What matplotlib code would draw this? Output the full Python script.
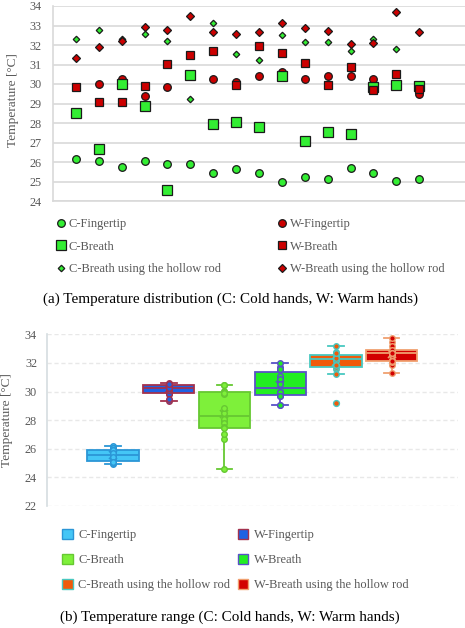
import numpy as np
import matplotlib
matplotlib.use("Agg")
import matplotlib.pyplot as plt
from matplotlib import cbook
from matplotlib.patches import Patch

plt.rcParams['font.family'] = ['Liberation Serif', 'DejaVu Serif']

# ---------------- data ----------------
series_names = ["C-Fingertip", "W-Fingertip", "C-Breath", "W-Breath",
                "C-Breath using the hollow rod", "W-Breath using the hollow rod"]
subjects = np.arange(1, 17)
c_finger = [26.17, 26.03, 25.74, 26.03, 25.90, 25.90, 25.42, 25.66, 25.42, 24.96, 25.23, 25.11, 25.68, 25.42, 25.01, 25.11]
w_finger = [29.83, 30.00, 30.24, 29.37, 29.83, 30.45, 30.25, 30.10, 30.39, 30.62, 30.25, 30.43, 30.43, 30.25, 30.53, 29.47]
c_breath = [28.53, 26.68, 30.02, 28.85, 24.58, 30.48, 27.95, 28.05, 27.81, 30.43, 27.06, 27.54, 27.44, 29.83, 29.97, 29.90]
w_breath = [29.83, 29.06, 29.09, 29.88, 31.01, 31.50, 31.68, 29.97, 31.97, 31.59, 31.08, 29.95, 30.89, 29.69, 30.53, 29.72]
c_rod = [32.32, 32.75, 32.32, 32.58, 32.22, 29.21, 33.15, 31.56, 31.25, 32.50, 32.17, 32.17, 31.71, 32.32, 31.82, 32.68]
w_rod = [31.33, 31.88, 32.20, 32.90, 32.79, 33.49, 32.68, 32.55, 32.67, 33.15, 32.87, 32.72, 32.05, 32.12, 33.71, 32.68]
all_series = [c_finger, w_finger, c_breath, w_breath, c_rod, w_rod]

top_yticks = list(range(24, 35))
bot_yticks = list(range(22, 35, 2))

# ---------------- styles ----------------
W, H = 465, 628
fig = plt.figure(figsize=(W / 100, H / 100), dpi=100)
GRAY_TXT = '#595959'
GRID = '#D9D9D9'
GREEN = '#33EE33'
RED = '#CC0000'
EDGE = '#1a1a1a'

def ax_rect(l, t, r, b):
    return [l / W, 1 - b / H, (r - l) / W, (b - t) / H]

# ---------------- top scatter ----------------
ax1 = fig.add_axes(ax_rect(53, 6, 465, 201))
mstyles = [('o', GREEN, 5.5), ('o', RED, 5.5), ('s', GREEN, 6.6), ('s', RED, 5.7),
           ('D', GREEN, 3.3), ('D', RED, 4.3)]
handles1 = []
for (m, c, ms), vals, name in zip(mstyles, all_series, series_names):
    h, = ax1.plot(subjects, vals, linestyle='none', marker=m, markersize=ms,
                  markerfacecolor=c, markeredgecolor=EDGE, markeredgewidth=0.9,
                  label=name, zorder=3)
    handles1.append(h)
ax1.set_xlim(0, 18)
ax1.set_ylim(24, 34)
ax1.set_yticks(top_yticks)
ax1.set_xticks([])
ax1.yaxis.grid(True, color=GRID, linewidth=1.2)
ax1.set_axisbelow(True)
for s in ['top', 'right']:
    ax1.spines[s].set_visible(False)
for s in ['left', 'bottom']:
    ax1.spines[s].set_color(GRID)
    ax1.spines[s].set_linewidth(1.2)
ax1.tick_params(axis='y', length=0, pad=8, labelsize=8.8, labelcolor=GRAY_TXT)
fig.text(13 / W, 1 - 100 / H, 'Temperature [°C]', rotation=90, ha='center', va='center',
         fontsize=9.6, color=GRAY_TXT)

order = [0, 2, 4, 1, 3, 5]
leg1 = fig.legend([handles1[i] for i in order], [series_names[i] for i in order], ncol=2,
                  loc='upper left', bbox_to_anchor=(57 / W, 1 - 218 / H), frameon=False,
                  fontsize=9.0, handlelength=0.7, handletextpad=0.25, columnspacing=4.55,
                  labelspacing=0.85, borderpad=0, borderaxespad=0)
for t in leg1.get_texts():
    t.set_color(GRAY_TXT)

fig.text(230 / W, 1 - 299 / H, '(a) Temperature distribution (C: Cold hands, W: Warm hands)',
         ha='center', va='center', fontsize=10.9, color='black')

# ---------------- bottom box plot ----------------
ax2 = fig.add_axes(ax_rect(46.7, 334.3, 458, 506))
faces = ['#44C6F6', '#1E62E4', '#7EF03A', '#22EE22', '#F05A0A', '#D20000']
edges = ['#2B96D6', '#A3324E', '#66C832', '#5A50C8', '#48C8C0', '#F0A070']
positions = np.arange(6)

stats = []
for vals in all_series:
    v = np.asarray(vals)
    st = cbook.boxplot_stats(v)[0]
    q1, med, q3 = np.percentile(v, [25, 50, 75], method='weibull')
    iqr = q3 - q1
    lo_f, hi_f = q1 - 1.5 * iqr, q3 + 1.5 * iqr
    inside = v[(v >= lo_f) & (v <= hi_f)]
    st.update(q1=q1, med=med, q3=q3, iqr=iqr, whislo=inside.min(), whishi=inside.max(),
              fliers=v[(v < lo_f) | (v > hi_f)], mean=v.mean())
    stats.append(st)

bp = ax2.bxp(stats, positions=positions, widths=0.92, patch_artist=True, showmeans=True,
             capwidths=0.28, zorder=2)
for i in range(6):
    fc, ec = faces[i], edges[i]
    bp['boxes'][i].set(facecolor=fc, edgecolor=ec, linewidth=1.3)
    bp['medians'][i].set(color=ec, linewidth=1.3)
    for j in (2 * i, 2 * i + 1):
        bp['whiskers'][j].set(color=ec, linewidth=1.3)
        bp['caps'][j].set(color=ec, linewidth=1.3)
    bp['means'][i].set(marker='x', markeredgecolor=ec, markersize=6, markeredgewidth=1.2)
    bp['fliers'][i].set(marker='o', markerfacecolor=fc, markeredgecolor=ec,
                        markersize=4.2, markeredgewidth=1.0)
    st = stats[i]
    v = np.asarray(all_series[i])
    inner = v[(v >= st['whislo']) & (v <= st['whishi'])]
    ax2.plot(np.full(inner.shape, positions[i]), inner, linestyle='none', marker='o',
             markersize=4.0, markerfacecolor=fc, markeredgecolor=ec, markeredgewidth=1.0,
             zorder=4)

ax2.set_xlim(-1.19, 6.19)
ax2.set_ylim(22, 34)
ax2.set_yticks(bot_yticks)
ax2.set_xticks([])
ax2.yaxis.grid(True, color='#E8E8E8', linewidth=1.0, linestyle=(0, (3, 2)))
ax2.set_axisbelow(True)
for s in ['top', 'right', 'bottom']:
    ax2.spines[s].set_visible(False)
ax2.spines['left'].set_color('#D5DDE0')
ax2.spines['left'].set_linewidth(1.2)
ax2.tick_params(axis='y', length=0, pad=7, labelsize=8.8, labelcolor=GRAY_TXT)
fig.text(7 / W, 1 - 420 / H, 'Temperature [°C]', rotation=90, ha='center', va='center',
         fontsize=9.6, color=GRAY_TXT)

patches = [Patch(facecolor=faces[i], edgecolor=edges[i], linewidth=1.0) for i in range(6)]
leg2 = fig.legend([patches[i] for i in order], [series_names[i] for i in order], ncol=2,
                  loc='upper left', bbox_to_anchor=(62 / W, 1 - 529 / H), frameon=False,
                  fontsize=9.0, handlelength=0.85, handleheight=0.85, handletextpad=0.45,
                  columnspacing=0.6, labelspacing=1.0, borderpad=0, borderaxespad=0)
for t in leg2.get_texts():
    t.set_color(GRAY_TXT)

fig.text(230 / W, 1 - 617 / H, '(b) Temperature range (C: Cold hands, W: Warm hands)',
         ha='center', va='center', fontsize=10.9, color='black')

fig.savefig('out.png', dpi=100, facecolor='white')
